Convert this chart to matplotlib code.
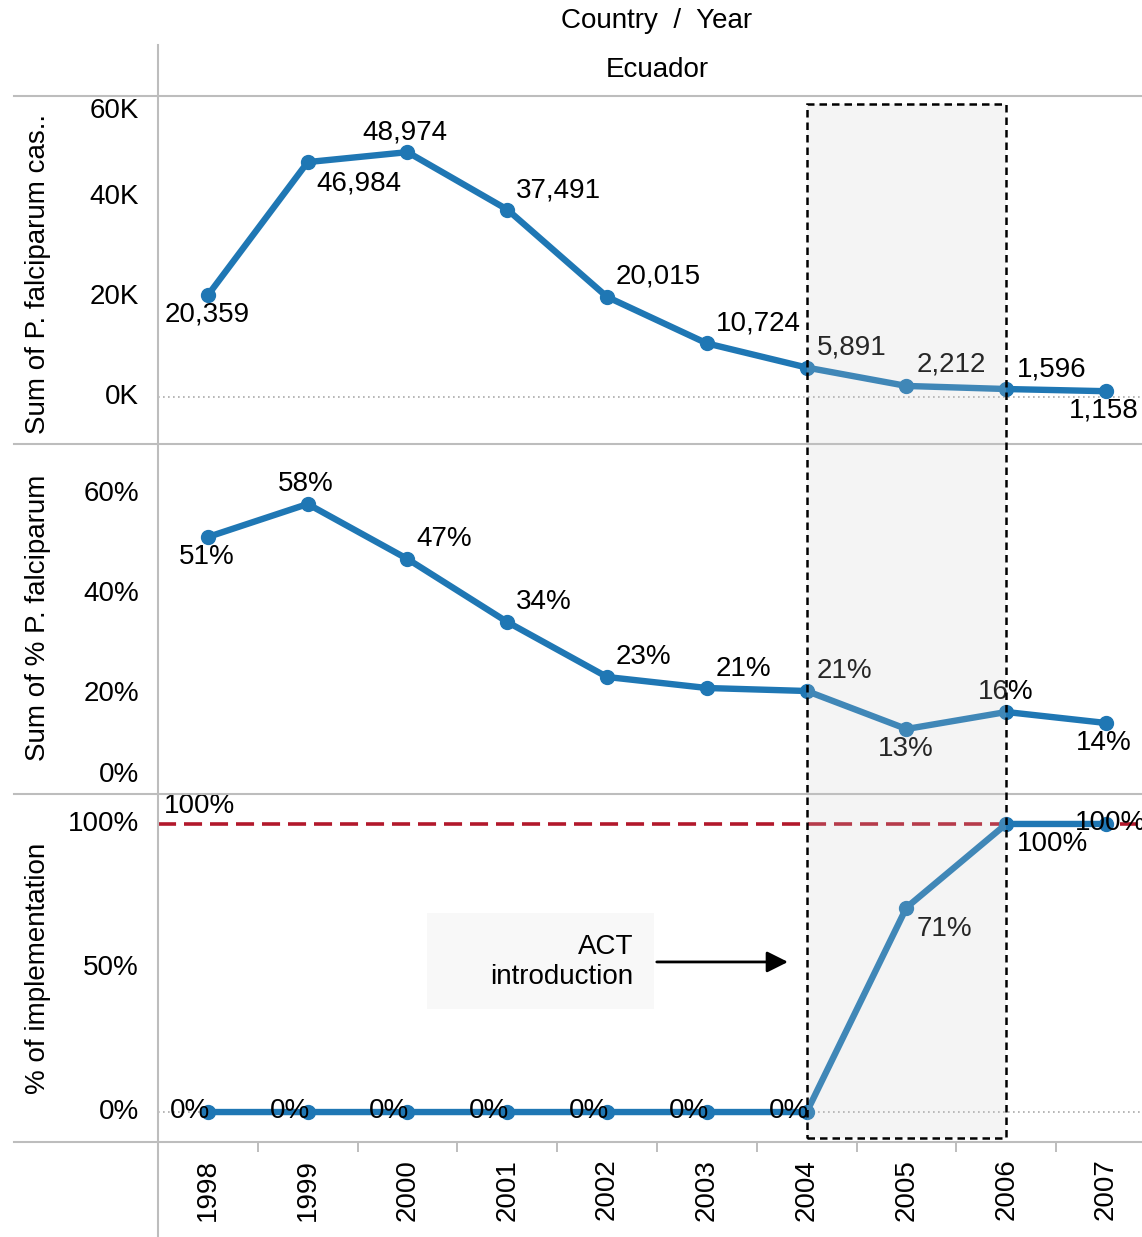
import matplotlib
matplotlib.use('Agg')
import matplotlib.pyplot as plt
import matplotlib.patches as mpatches
import matplotlib.transforms as mtransforms
from matplotlib.lines import Line2D

plt.rcParams['font.family'] = ['Liberation Sans', 'DejaVu Sans']

# data
years = [1998, 1999, 2000, 2001, 2002, 2003, 2004, 2005, 2006, 2007]
cases = [20359, 46984, 48974, 37491, 20015, 10724, 5891, 2212, 1596, 1158]
pct_falciparum = [51.4, 58.0, 47.0, 34.4, 23.4, 21.2, 20.6, 13.0, 16.4, 14.2]
pct_impl = [0, 0, 0, 0, 0, 0, 0, 71, 100, 100]
target = 100
act_start, act_end = 2004, 2006

cases_ticks = [0, 20000, 40000, 60000]
cases_ticklabels = ['0K', '20K', '40K', '60K']
pf_ticks = [0, 20, 40, 60]
pf_ticklabels = ['0%', '20%', '40%', '60%']
impl_ticks = [0, 50, 100]
impl_ticklabels = ['0%', '50%', '100%']

# label placement (ha, dx, dy in pixels)
cases_lbl = [('center', -1, -19), ('left', 9, -21), ('center', -3, 20), ('left', 9, 19),
             ('left', 9, 20), ('left', 9, 20), ('left', 10, 20), ('left', 10, 21),
             ('left', 11, 20), ('center', -2, -19)]
pf_lbl = [('center', -1, -20), ('center', -2, 20), ('left', 9, 20), ('left', 9, 20),
          ('left', 9, 20), ('left', 9, 19), ('left', 10, 20), ('center', -1, -20),
          ('center', -1, 20), ('center', -2, -20)]
impl_lbl = [('right', 2, 1)] * 7 + [('left', 10, -21), ('left', 11, -20), ('center', 4, 1)]

W, H = 1142, 1237
BLUE = '#1f77b4'
GRAY = '#bdbdbd'
FS = 20

fig = plt.figure(figsize=(W / 100, H / 100), dpi=100)


def px_axes(top, bottom):
    ax = fig.add_axes([158 / W, 1 - bottom / H, 984 / W, (bottom - top) / H])
    for s in ax.spines.values():
        s.set_visible(False)
    ax.set_xlim(1997.5, 1997.5 + 984 / 99.8)
    ax.set_yticks([])
    ax.tick_params(axis='x', which='both', length=0, labelbottom=False)
    return ax


def draw(ax, vals, labels, places):
    ax.plot(years, vals, color=BLUE, lw=4.6, marker='o', ms=10,
            solid_capstyle='round', clip_on=False, zorder=3)
    for x, v, t, (ha, dx, dy) in zip(years, vals, labels, places):
        ax.annotate(t, (x, v), xytext=(dx, dy), textcoords='offset pixels',
                    ha=ha, va='center', fontsize=FS, annotation_clip=False, zorder=4)


def yticks(ax, ticks, labels, shift=None):
    shift = shift or {}
    for v, t in zip(ticks, labels):
        ax.annotate(t, (0, v), xycoords=ax.get_yaxis_transform(),
                    xytext=(-19, shift.get(v, 0)), textcoords='offset pixels',
                    ha='right', va='center', fontsize=FS, annotation_clip=False)


# panel 1: cases
ax1 = px_axes(96, 444)
ax1.set_ylim(-9400, 60200)
ax1.axhline(0, color='#aaaaaa', lw=1.2, ls=(0, (1, 2)), zorder=1)
draw(ax1, cases, ['{:,}'.format(c) for c in cases], cases_lbl)
yticks(ax1, cases_ticks, cases_ticklabels, {60000: -14})

# panel 2: % falciparum
ax2 = px_axes(444, 794)
ax2.set_ylim(0, 70)
draw(ax2, pct_falciparum, ['{:.0f}%'.format(p) for p in pct_falciparum], pf_lbl)
yticks(ax2, pf_ticks, pf_ticklabels, {0: 19})

# panel 3: implementation
ax3 = px_axes(794, 1142)
ax3.set_ylim(-10.4, 110.4)
ax3.axhline(0, color='#aaaaaa', lw=1.2, ls=(0, (1, 2)), zorder=1)
ax3.axhline(target, color='#b2182b', lw=2.6, ls=(0, (5, 2.2)), zorder=2)
ax3.annotate('{}%'.format(target), (0, target), xycoords=ax3.get_yaxis_transform(),
             xytext=(6, 18), textcoords='offset pixels', ha='left', va='center',
             fontsize=FS, bbox=dict(boxstyle='square,pad=0.1', fc='white', ec='none'),
             annotation_clip=False, zorder=4)
draw(ax3, pct_impl, ['{}%'.format(p) for p in pct_impl], impl_lbl)
yticks(ax3, impl_ticks, impl_ticklabels)

ax3.set_xticks(years)
ax3.set_xticklabels([str(y) for y in years], rotation=90, va='top', fontsize=FS)
ax3.set_xticks([y + 0.5 for y in years[:-1]], minor=True)
ax3.tick_params(axis='x', which='major', length=0, pad=12, labelbottom=True)
ax3.tick_params(axis='x', which='minor', length=7, width=1.4, color=GRAY, direction='out')

# ACT annotation
ax3.add_patch(mpatches.Rectangle((2000.2, 35.8), 2.27, 33.3, fc='#f8f8f8', ec='none', zorder=1))
ax3.text(2002.26, 52.1, 'ACT\nintroduction', ha='right', va='center', fontsize=FS,
         linespacing=1.2, zorder=4)
ax3.annotate('', xy=(2003.84, 52.1), xytext=(2002.47, 52.1),
             arrowprops=dict(arrowstyle='-|>', mutation_scale=32, lw=2, color='black'),
             annotation_clip=False)

# shaded ACT period overlay
tr = mtransforms.blended_transform_factory(ax1.transData, fig.transFigure)
fig.add_artist(mpatches.Rectangle((act_start, 1 - 1138 / H), act_end - act_start, 1034 / H,
                                  transform=tr, fc='#c8c8c8', alpha=0.2, ec='none', zorder=5))
fig.add_artist(mpatches.Rectangle((act_start, 1 - 1138 / H), act_end - act_start, 1034 / H,
                                  transform=tr, fill=False, ec='black', lw=1.8,
                                  ls=(0, (3, 2)), zorder=6))

# header and frame lines
fig.text(657 / W, 1 - 21 / H, 'Country  /  Year', ha='center', va='center', fontsize=FS)
fig.text(657 / W, 1 - 70 / H, 'Ecuador', ha='center', va='center', fontsize=FS)
for y in [96, 444, 794, 1142]:
    fig.add_artist(Line2D([14 / W, 1], [1 - y / H] * 2, color=GRAY, lw=1.5))
fig.add_artist(Line2D([158 / W] * 2, [1 - 45 / H, 0], color=GRAY, lw=1.5))

# axis titles
fig.text(38 / W, 1 - 274 / H, 'Sum of P. falciparum cas..', rotation=90,
         ha='center', va='center', fontsize=FS)
fig.text(38 / W, 1 - 618 / H, 'Sum of % P. falciparum', rotation=90,
         ha='center', va='center', fontsize=FS)
fig.text(38 / W, 1 - 968 / H, '% of implementation', rotation=90,
         ha='center', va='center', fontsize=FS)

fig.savefig('out.png', dpi=100)
